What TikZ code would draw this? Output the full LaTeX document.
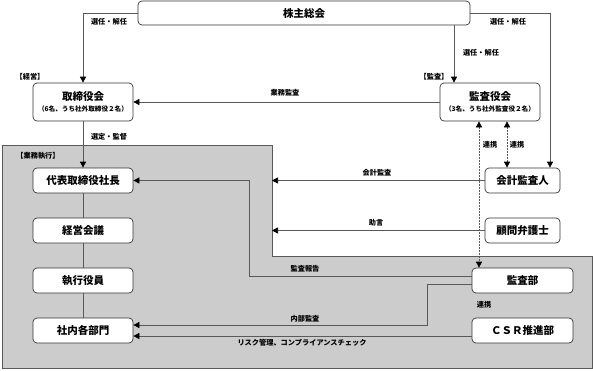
\documentclass[tikz,border=0pt]{standalone}
\usepackage{fontspec}
\setmainfont{Noto Sans CJK JP}
\usetikzlibrary{arrows.meta}

\begin{document}
\begin{tikzpicture}
    [x=1pt, y=-1pt,
    box/.style={draw=black!80, line width=0.7pt, rounded corners=4pt, fill=white,
        inner sep=0pt, align=center, font=\fontsize{10.5}{12}\selectfont\bfseries},
    lbl/.style={inner sep=0pt, font=\fontsize{7.2}{8}\selectfont\bfseries},
    link/.style={draw=black!65, line width=0.7pt},
    arr/.style={link, -{Triangle[length=6pt, width=6pt, color=black]}},
    darr/.style={link, dashed, dash pattern=on 2pt off 1pt,
        {Triangle[length=6pt, width=6pt, color=black]}-{Triangle[length=6pt, width=6pt, color=black]}}]
        \useasboundingbox (0,0) rectangle (593,370);
        %% area of business execution
        \draw[draw=black!65, line width=0.7pt, fill=black!20]
            (2,145) -- (272,145) -- (272,256) -- (592,256) -- (592,368) -- (2,368) -- cycle;
        \coordinate (gyomu) at (272,145);

        %% boxes
        \node[box, minimum width=332pt, minimum height=24pt] (soukai) at (304,13) {株主総会};
        \node[box, minimum width=100pt, minimum height=38pt] (torishimari) at (83,102)
            {取締役会\\[-1pt]{\fontsize{6.6}{7}\selectfont（6名、うち社外取締役２名）}};
        \node[box, minimum width=100pt, minimum height=38pt] (kansayaku) at (490,102)
            {監査役会\\[-1pt]{\fontsize{6.6}{7}\selectfont（3名、うち社外監査役２名）}};
        \node[box, minimum width=100pt, minimum height=25pt] (daihyo) at (83,180.5) {代表取締役社長};
        \node[box, minimum width=100pt, minimum height=25pt] (keiei) at (83,230.5) {経営会議};
        \node[box, minimum width=100pt, minimum height=25pt] (shikko) at (83,280.5) {執行役員};
        \node[box, minimum width=100pt, minimum height=25pt] (bumon) at (83,330.5) {社内各部門};
        \node[box, minimum width=75pt, minimum height=25pt] (kaikei) at (522.5,180.5) {会計監査人};
        \node[box, minimum width=75pt, minimum height=25pt] (bengo) at (522.5,230.5) {顧問弁護士};
        \node[box, minimum width=101pt, minimum height=25pt] (kansabu) at (522.5,280.5) {監査部};
        \node[box, minimum width=101pt, minimum height=25pt] (csr) at (522.5,330.5) {ＣＳＲ推進部};

        %% connectors
        \draw[arr] (soukai.west) -| (torishimari.north);
        \draw[arr] ([xshift=-36pt]kansayaku.north |- soukai.south) -- ([xshift=-36pt]kansayaku.north);
        \draw[arr] (soukai.east) -| ([xshift=27.5pt]kaikei.north);
        \draw[arr] (kansayaku.west) -- (torishimari.east);
        \draw[arr] (torishimari.south) -- (daihyo.north);
        \draw[link] (daihyo.south) -- (keiei.north);
        \draw[link] (keiei.south) -- (shikko.north);
        \draw[link] (shikko.south) -- (bumon.north);
        \draw[darr] ([xshift=-11pt]kansayaku.south) -- ([xshift=-11pt]kansayaku.south |- kansabu.north);
        \draw[darr] ([xshift=17pt]kansayaku.south) -- ([xshift=17pt]kansayaku.south |- kaikei.north);
        \draw[arr] (kaikei.west) -- (kaikei.west -| gyomu);
        \draw[arr] (bengo.west) -- (bengo.west -| gyomu);
        \draw[arr] ([yshift=4.5pt]kansabu.west) -- ++(-222,0) |- (daihyo.east);
        \draw[arr] ([yshift=-3.5pt]kansabu.west) -- ++(-44,0) |- ([yshift=5.5pt]bumon.east);
        \draw[arr] ([yshift=-5.5pt]csr.west) -- ([yshift=-5.5pt]bumon.east);

        %% labels
        \node[lbl] (l-sen1) at (109,22) {選任・解任};
        \node[lbl] (l-sen2) at (481,53) {選任・解任};
        \node[lbl] (l-sen3) at (508,22) {選任・解任};
        \node[lbl] (l-keiei) at (30,77) {【経営】};
        \node[lbl] (l-kansa) at (434,77) {【監査】};
        \node[lbl] (l-gyomu) at (38,156) {【業務執行】};
        \node[lbl] (l-gyomukansa) at (285,93) {業務監査};
        \node[lbl] (l-sentei) at (109,137) {選定・監督};
        \node[lbl] (l-renkei1) at (490,145) {連携};
        \node[lbl] (l-renkei2) at (517,145) {連携};
        \node[lbl] (l-kaikei) at (377,173) {会計監査};
        \node[lbl] (l-jogen) at (376,223) {助言};
        \node[lbl] (l-hokoku) at (305,269) {監査報告};
        \node[lbl] (l-naibu) at (305,319) {内部監査};
        \node[lbl] (l-risk) at (302,343) {リスク管理、コンプライアンスチェック};
        \node[lbl] (l-renkei3) at (484,305) {連携};
    \end{tikzpicture}
\end{document}
